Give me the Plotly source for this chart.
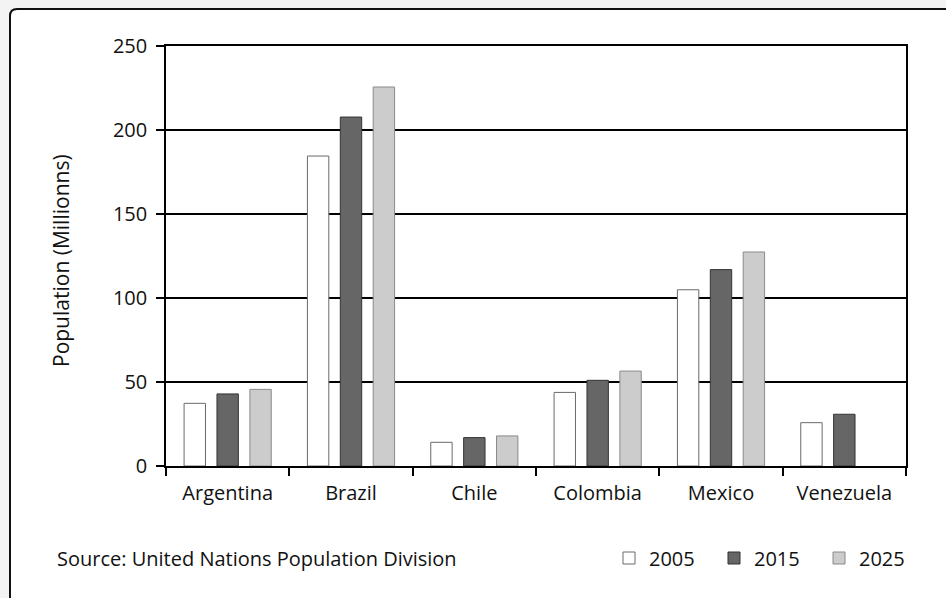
import plotly.graph_objects as go

countries = ["Argentina", "Brazil", "Chile", "Colombia", "Mexico", "Venezuela"]
years = ["2005", "2015", "2025"]
pop_2005 = [37.3, 184.5, 14.1, 43.8, 104.9, 25.8]
pop_2015 = [42.9, 207.7, 16.9, 51.0, 116.9, 30.8]
pop_2025 = [45.6, 225.6, 17.9, 56.5, 127.4, None]
y_ticks = [0, 50, 100, 150, 200, 250]

series = [pop_2005, pop_2015, pop_2025]
fills = ["#ffffff", "#666666", "#cccccc"]
lines = ["#6a6a6a", "#333333", "#8a8a8a"]

FONT = "Open Sans"
W, H = 946, 598
L, R, T, B = 166, 40, 46, 132
PW, PH = W - L - R, H - T - B


def px(x):
    return (x - L) / PW


def py(y):
    return (H - B - y) / PH


fig = go.Figure()
for yr, vals, fc, lc in zip(years, series, fills, lines):
    fig.add_trace(go.Bar(
        x=countries, y=vals, name=yr,
        marker=dict(color=fc, line=dict(color=lc, width=1)),
    ))

# outer rounded frame (extends beyond the right/bottom of the image)
x0, x1 = px(10), px(1000)
y0, y1 = py(9), py(640)
rx, ry = 7 / PW, 7 / PH
path = (f"M{x0+rx},{y0} L{x1},{y0} L{x1},{y1} L{x0},{y1} L{x0},{y0-ry} "
        f"Q{x0},{y0} {x0+rx},{y0} Z")
fig.add_shape(type="path", path=path, xref="paper", yref="paper",
              line=dict(color="#111111", width=2), fillcolor="white", layer="below")

fig.add_annotation(text="Population (Millionns)", textangle=-90,
                   xref="paper", yref="paper", x=px(61), y=py(261),
                   xanchor="center", yanchor="middle", showarrow=False,
                   font=dict(family=FONT, size=21, color="#111"))
fig.add_annotation(text="Source: United Nations Population Division",
                   xref="paper", yref="paper", x=px(55), y=py(558),
                   xanchor="left", yanchor="middle", showarrow=False,
                   font=dict(family=FONT, size=20, color="#111"))

fig.update_layout(
    width=W, height=H,
    margin=dict(l=L, r=R, t=T, b=B),
    paper_bgcolor="#f3f3f3", plot_bgcolor="rgba(0,0,0,0)",
    barmode="group", bargap=0.2, bargroupgap=0.35,
    font=dict(family=FONT, size=20, color="#111"),
    showlegend=True,
    legend=dict(orientation="h", x=px(609), xanchor="left", y=py(558), yanchor="middle",
                bgcolor="rgba(0,0,0,0)", font=dict(family=FONT, size=20, color="#111"),
                entrywidth=60, entrywidthmode="pixels", itemwidth=30),
)
fig.update_xaxes(
    showline=True, linecolor="black", linewidth=1.5, mirror=True,
    ticks="outside", tickson="boundaries", ticklen=8, tickwidth=1.5, tickcolor="black",
    showgrid=False, ticklabelstandoff=8,
    tickfont=dict(family=FONT, size=20, color="#111"),
)
fig.update_yaxes(
    range=[0, 250], tickvals=y_ticks, showline=True, linecolor="black", linewidth=1.5,
    mirror=True,
    ticks="outside", ticklen=8, tickwidth=1.5, tickcolor="black",
    showgrid=True, gridcolor="black", gridwidth=1.5, zeroline=False,
    ticklabelstandoff=5,
    tickfont=dict(family=FONT, size=20, color="#111"),
)

fig.write_html("out.html")
